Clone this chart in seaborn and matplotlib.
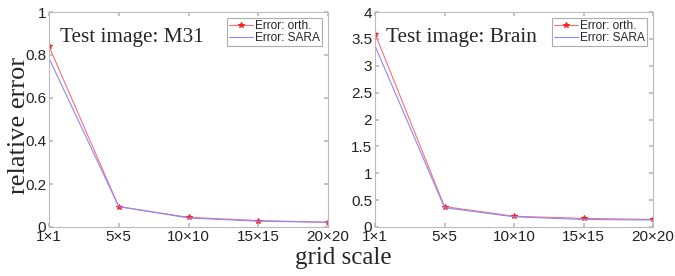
import numpy as np
import pandas as pd
import seaborn as sns
import matplotlib
matplotlib.use('Agg')
import matplotlib.pyplot as plt

grid_labels = ['1\u00d71', '5\u00d75', '10\u00d710', '15\u00d715', '20\u00d720']

m31_orth = [0.84, 0.095, 0.045, 0.030, 0.022]
m31_sara = [0.785, 0.095, 0.042, 0.027, 0.022]

brain_orth = [3.60, 0.38, 0.20, 0.16, 0.14]
brain_sara = [3.37, 0.36, 0.19, 0.14, 0.13]

panels = [
    ('Test image: M31', m31_orth, m31_sara, 1.0, np.arange(0, 1.01, 0.2)),
    ('Test image: Brain', brain_orth, brain_sara, 4.0, np.arange(0, 4.01, 0.5)),
]

sns.set_theme(style='white')
plt.rcParams['font.family'] = ['Liberation Sans', 'DejaVu Sans']

fig = plt.figure(figsize=(6.75, 2.76), dpi=100)
axes = [fig.add_axes([49 / 675, 1 - 227 / 276, 279 / 675, 215 / 276]),
        fig.add_axes([375 / 675, 1 - 227 / 276, 278 / 675, 215 / 276])]

for ax, (title, orth, sara, ymax, yticks) in zip(axes, panels):
    df = pd.DataFrame({'x': np.arange(len(grid_labels)),
                       'orth': orth, 'sara': sara})
    sns.lineplot(data=df, x='x', y='orth', ax=ax, color='#ff7070', lw=0.8,
                 marker='*', markersize=4, markeredgecolor='#ff2020',
                 markerfacecolor='#ff2020', label='Error: orth.')
    sns.lineplot(data=df, x='x', y='sara', ax=ax, color='#8888ff', lw=0.8,
                 label='Error: SARA')
    ax.set_xlim(0, len(grid_labels) - 1)
    ax.set_ylim(0, ymax)
    ax.set_xticks(np.arange(len(grid_labels)))
    ax.set_xticklabels(grid_labels)
    ax.set_yticks(yticks)
    ax.set_yticklabels(['%g' % t for t in yticks])
    ax.set_xlabel('')
    ax.set_ylabel('')
    ax.tick_params(direction='in', length=3, color='#bbbbbb', labelsize=11,
                   labelcolor='#222222', pad=2, top=True, right=True,
                   bottom=True, left=True)
    for s in ax.spines.values():
        s.set_color('#bbbbbb')
        s.set_linewidth(0.8)
    ax.text(0.04, 0.88, title, transform=ax.transAxes, fontsize=15.3,
            family='Liberation Serif', va='center', ha='left')
    leg = ax.legend(loc='upper right', fontsize=8.6, frameon=True, fancybox=False,
                    borderpad=0.15, labelspacing=0.05, handlelength=2.0,
                    handletextpad=0.2, borderaxespad=0.5)
    leg.get_frame().set_edgecolor('#999999')
    leg.get_frame().set_linewidth(0.8)

fig.text(0.012, 0.547, 'relative error', rotation=90, va='center', ha='left',
         fontsize=19, family='Liberation Serif')
fig.text(0.508, 0.065, 'grid scale', va='center', ha='center',
         fontsize=18, family='Liberation Serif')

fig.savefig('out.png', dpi=100)
